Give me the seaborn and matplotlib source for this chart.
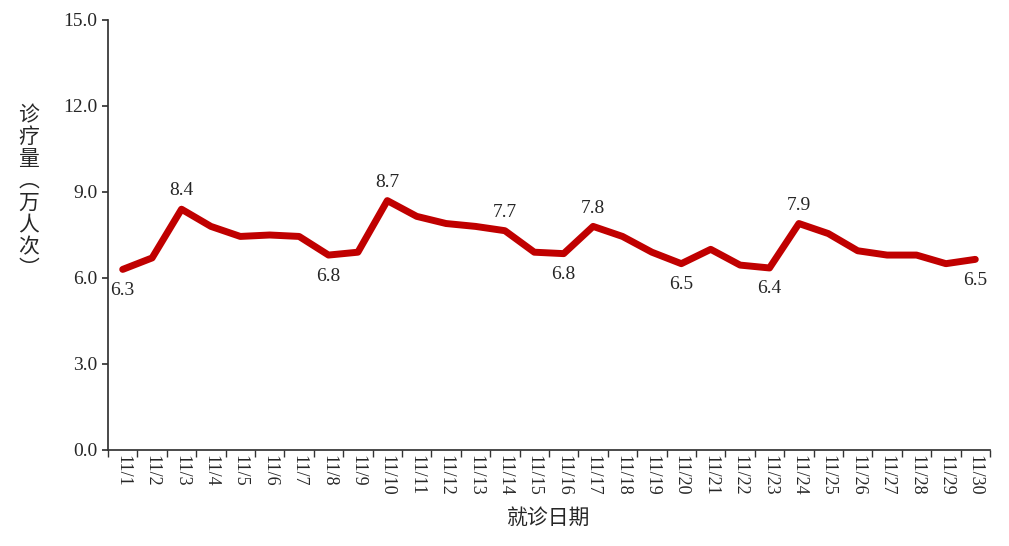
import numpy as np
import pandas as pd
import matplotlib
matplotlib.use('Agg')
import matplotlib.pyplot as plt
import seaborn as sns

dates = [f'11/{d}' for d in range(1, 31)]
visits = [6.3, 6.7, 8.4, 7.8, 7.45, 7.5, 7.45, 6.8, 6.9, 8.7,
          8.15, 7.9, 7.8, 7.65, 6.9, 6.85, 7.8, 7.45, 6.9, 6.5,
          7.0, 6.45, 6.35, 7.9, 7.55, 6.95, 6.8, 6.8, 6.5, 6.65]
# index -> (label text, above?)
labels = {0: ('6.3', False), 2: ('8.4', True), 7: ('6.8', False), 9: ('8.7', True),
          13: ('7.7', True), 15: ('6.8', False), 16: ('7.8', True), 19: ('6.5', False),
          22: ('6.4', False), 23: ('7.9', True), 29: ('6.5', False)}

df = pd.DataFrame({'date': dates, 'visits': visits})
df['x'] = np.arange(len(df))

sns.set_theme(style='white')
plt.rcParams['font.family'] = ['Liberation Serif', 'Noto Sans CJK SC']

fig = plt.figure(figsize=(10.09, 5.46), dpi=100)
ax = fig.add_axes([108 / 1009, 96 / 546, 882 / 1009, 430 / 546])
sns.lineplot(data=df, x='x', y='visits', ax=ax, color='#C00000', linewidth=5)

for i, (txt, above) in labels.items():
    ax.annotate(txt, (i, visits[i]), xytext=(0, 7 if above else -9),
                textcoords='offset points', ha='center',
                va='bottom' if above else 'top', fontsize=14)

ax.set_xlim(-0.5, len(dates) - 0.5)
ax.set_ylim(0, 15)
ax.set_yticks(np.arange(0, 15.1, 3))
ax.set_yticklabels([f'{v:.1f}' for v in np.arange(0, 15.1, 3)], fontsize=14)
ax.set_xticks(df['x'])
ax.set_xticklabels(dates, rotation=-90, fontsize=13)
ax.set_xticks(np.arange(-0.5, len(dates), 1), minor=True)
ax.tick_params(axis='x', which='major', length=0)
ax.tick_params(axis='x', which='minor', length=5, color='#333333', direction='out', bottom=True)
ax.tick_params(axis='y', length=4, color='#333333', left=True)
for s in ['top', 'right']:
    ax.spines[s].set_visible(False)
for s in ['left', 'bottom']:
    ax.spines[s].set_color('#333333')
ax.set_xlabel('就诊日期', fontsize=15, family=['Noto Sans CJK SC'], labelpad=8)
ax.set_ylabel('诊\n疗\n量\n︵\n万\n人\n次\n︶', rotation=0, fontsize=15,
              family=['Noto Sans CJK SC'], linespacing=1.0, va='center', labelpad=22)
ax.yaxis.set_label_coords(-0.09, 0.6)
fig.savefig('out.png', dpi=100)
